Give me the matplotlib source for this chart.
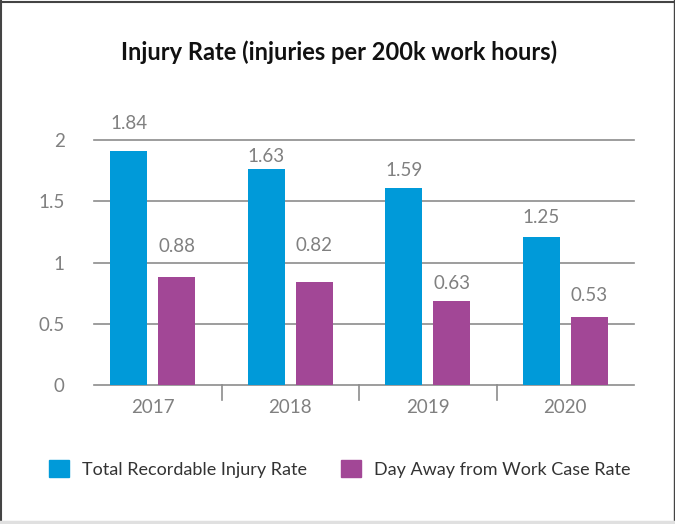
import numpy as np
import matplotlib
matplotlib.use("Agg")
import matplotlib.pyplot as plt
from matplotlib.lines import Line2D
from matplotlib.patches import Patch

# data
years = ["2017", "2018", "2019", "2020"]
trir = [1.91, 1.76, 1.61, 1.21]          # bar heights as drawn
trir_labels = ["1.84", "1.63", "1.59", "1.25"]
dart = [0.88, 0.84, 0.685, 0.555]
dart_labels = ["0.88", "0.82", "0.63", "0.53"]
series_names = ["Total Recordable Injury Rate", "Day Away from Work Case Rate"]
yticks = [0, 0.5, 1, 1.5, 2]
ytick_labels = ["0", "0.5", "1", "1.5", "2"]

# gap (px) between bar top and value label centre, as in the original
trir_gap = [28, 13, 17, 19]
dart_gap = [31, 37, 18, 22]

blue = "#009ad9"
purple = "#a24796"
grey = "#808080"

plt.rcParams["font.family"] = ["Lato", "DejaVu Sans"]

fig = plt.figure(figsize=(6.75, 5.24), dpi=100)
ax = fig.add_axes([84 / 675, 139 / 524, 550 / 675, 245 / 524])

x = np.arange(len(years))
w = 0.27
off = 0.175
b1 = ax.bar(x - off, trir, w, color=blue, zorder=3)
b2 = ax.bar(x + off, dart, w, color=purple, zorder=3)

# value labels above bars
for bars, labs, gaps in [(b1, trir_labels, trir_gap), (b2, dart_labels, dart_gap)]:
    for rect, lab, g in zip(bars, labs, gaps):
        ax.annotate(lab, (rect.get_x() + rect.get_width() / 2, rect.get_height()),
                    xytext=(0, g * 0.72), textcoords="offset points", ha="center", va="center",
                    fontsize=13.5, color=grey, annotation_clip=False)

ax.set_xlim(-0.5, 3.5)
ax.set_ylim(0, 2)

# gridlines (start a little right of the category edge, like the original)
x0 = -0.5 + 10 / 137.5
for t in yticks:
    ax.plot([x0, 3.5], [t, t], color="#8c8c8c", lw=1.2, zorder=1, clip_on=False)
# category separators below the axis
for s in [0.5, 1.5, 2.5]:
    ax.plot([s, s], [0, -15 / 122.5], color="#8c8c8c", lw=1.2, clip_on=False)

for sp in ax.spines.values():
    sp.set_visible(False)
ax.set_yticks(yticks)
ax.set_yticklabels(ytick_labels)
ax.set_xticks(x)
ax.set_xticklabels(years)
ax.tick_params(axis="both", length=0, labelsize=13.5, labelcolor=grey)
ax.tick_params(axis="y", pad=14)
ax.tick_params(axis="x", pad=10)

fig.text(339 / 675, 1 - 52 / 524, "Injury Rate (injuries per 200k work hours)",
         ha="center", va="center", fontsize=17, fontweight="bold", color="#111111")

handles = [Patch(color=blue), Patch(color=purple)]
fig.legend(handles, series_names, loc="center left", bbox_to_anchor=(33 / 675, 1 - 469 / 524),
           ncol=2, frameon=False, fontsize=13, labelcolor="#333333",
           handlelength=1.1, handleheight=1.1, handletextpad=0.7, columnspacing=1.9)

# border around the image
fig.add_artist(Line2D([0.0015, 0.0015], [0, 1], transform=fig.transFigure, color="#444444", lw=1.5))
fig.add_artist(Line2D([0, 1], [0.997, 0.997], transform=fig.transFigure, color="#444444", lw=1.5))
fig.add_artist(Line2D([0.998, 0.998], [0, 1], transform=fig.transFigure, color="#444444", lw=1.0))
fig.add_artist(Line2D([0, 1], [0.003, 0.003], transform=fig.transFigure, color="#e0e0e0", lw=2.5))

fig.savefig("out.png", dpi=100)
